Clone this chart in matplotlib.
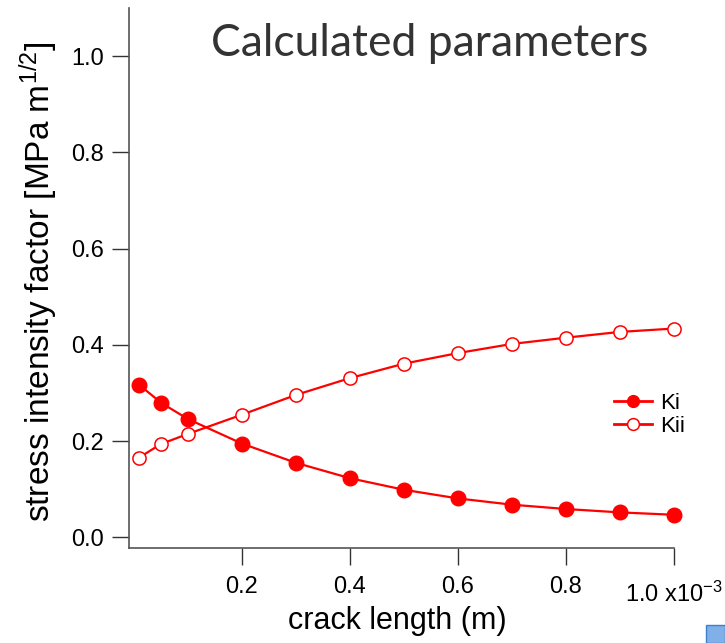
import matplotlib
matplotlib.use("Agg")
import matplotlib.pyplot as plt
from matplotlib.ticker import FixedLocator, FixedFormatter
from matplotlib.patches import Rectangle

plt.rcParams['font.family'] = ['Liberation Sans', 'DejaVu Sans']
plt.rcParams['mathtext.fontset'] = 'custom'
plt.rcParams['mathtext.rm'] = 'Liberation Sans'
plt.rcParams['mathtext.it'] = 'Liberation Sans:italic'

# data (crack length in units of 1e-3 m)
crack_length = [0.01, 0.05, 0.1, 0.2, 0.3, 0.4, 0.5, 0.6, 0.7, 0.8, 0.9, 1.0]
Ki = [0.317, 0.280, 0.246, 0.195, 0.155, 0.123, 0.099, 0.081, 0.068, 0.059, 0.052, 0.047]
Kii = [0.166, 0.194, 0.215, 0.255, 0.296, 0.331, 0.361, 0.383, 0.402, 0.415, 0.427, 0.434]
xticks = [0.2, 0.4, 0.6, 0.8, 1.0]
xtick_labels = ['0.2', '0.4', '0.6', '0.8', '']
yticks = [0.0, 0.2, 0.4, 0.6, 0.8, 1.0]
ytick_labels = ['0.0', '0.2', '0.4', '0.6', '0.8', '1.0']

W, H = 725, 643
fig = plt.figure(figsize=(W / 100, H / 100), dpi=100)
ax = fig.add_axes([129 / W, (H - 548) / H, (674 - 129) / W, (548 - 8) / H])

red = '#ff0000'
ax.plot(crack_length, Ki, color=red, lw=1.6, marker='o', ms=10.5,
        mfc=red, mec=red, label='Ki', zorder=3, clip_on=False)
ax.plot(crack_length, Kii, color=red, lw=1.6, marker='o', ms=9.5,
        mfc='white', mec=red, mew=1.1, label='Kii', zorder=3, clip_on=False)

ax.set_xlim(-0.009, 1.0)
ax.set_ylim(-0.022, 1.1)

for s in ['top', 'right']:
    ax.spines[s].set_visible(False)
for s in ['left', 'bottom']:
    ax.spines[s].set_color('#555555')
    ax.spines[s].set_linewidth(1.2)

ax.xaxis.set_major_locator(FixedLocator(xticks))
ax.xaxis.set_major_formatter(FixedFormatter(xtick_labels))
ax.yaxis.set_major_locator(FixedLocator(yticks))
ax.yaxis.set_major_formatter(FixedFormatter(ytick_labels))
ax.tick_params(axis='both', direction='out', length=12, width=1.0,
               color='#333333', labelsize=17, labelcolor='black')
ax.tick_params(axis='x', pad=8)
ax.tick_params(axis='y', pad=6)

fig.text(723 / W, 1 - 594 / H, '1.0 x10$^{-3}$', fontsize=17, ha='right', va='center')

ax.set_xlabel('crack length (m)', fontsize=22)
ax.xaxis.set_label_coords((397 - 129) / 545, (548 - 606) / 540)
ax.set_ylabel('stress intensity factor [MPa m$^{1/2}$]', fontsize=24)
ax.yaxis.set_label_coords((60 - 129) / 545, (548 - 282) / 540)

fig.text(430 / W, 1 - 43 / H, 'Calculated parameters', fontsize=32,
         family=['Lato', 'DejaVu Sans'], color='#333333', ha='center', va='center')

leg = ax.legend(loc='upper left', bbox_to_anchor=((614 - 129) / 545, (548 - 393) / 540),
                frameon=False, fontsize=16, handlelength=1.7, handletextpad=0.36,
                labelspacing=0.1, borderaxespad=0, borderpad=0)
for line in leg.get_lines():
    line.set_markersize(8.5)
    line.set_linewidth(2)

fig.patches.append(Rectangle((706 / W, 0), 19 / W, 18 / H, transform=fig.transFigure,
                             facecolor='#7fb0e8', edgecolor='#3a7fd0', lw=1))

fig.savefig('out.png', dpi=100)
